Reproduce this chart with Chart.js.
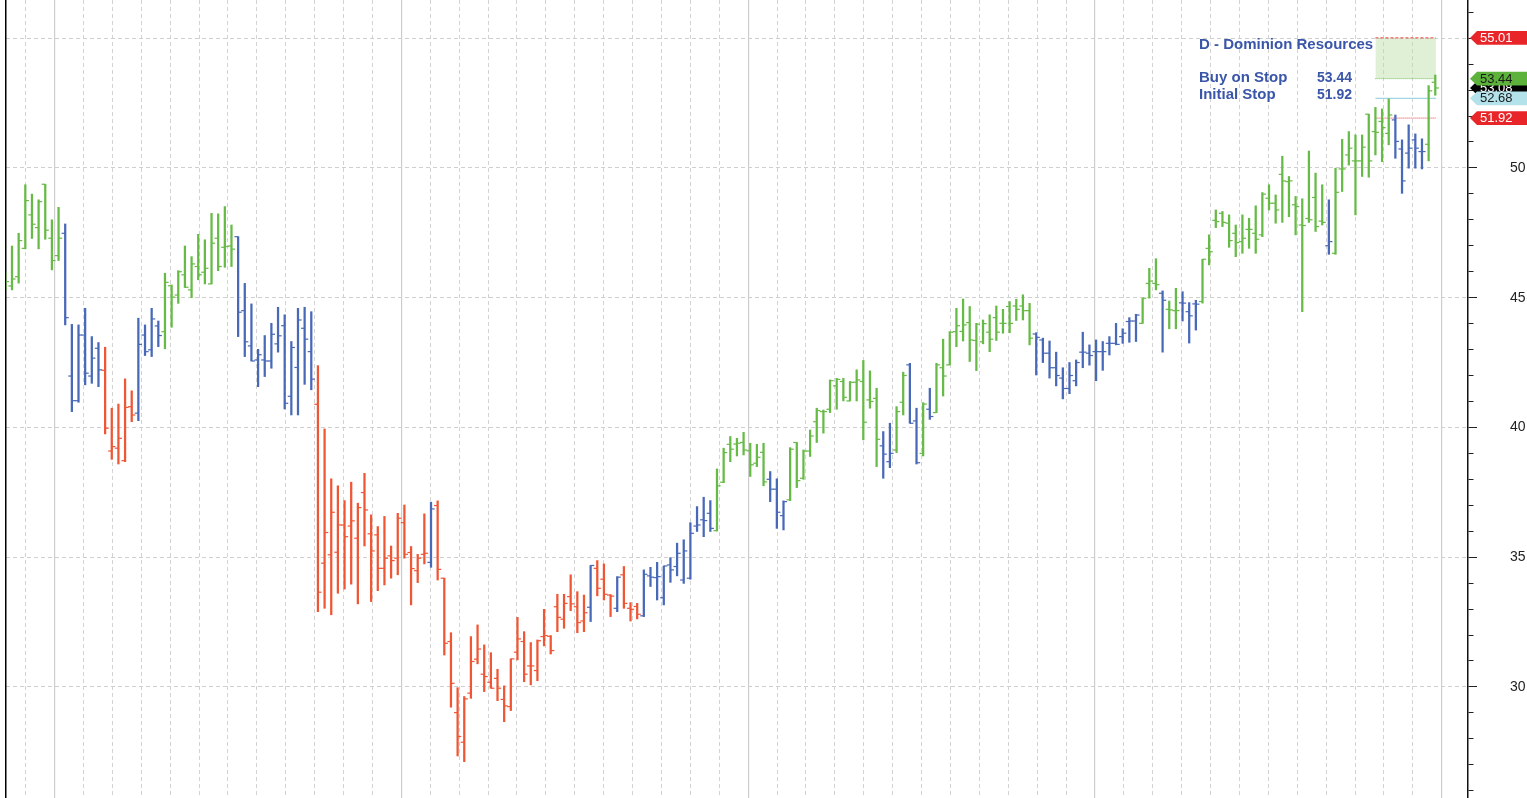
<!DOCTYPE html>
<html>
<head>
<meta charset="utf-8">
<title>D - Dominion Resources</title>
<script src="https://cdn.jsdelivr.net/npm/chart.js@4.4.0/dist/chart.umd.min.js"></script>
<style>
  html, body { margin: 0; padding: 0; background: #fff; overflow: hidden; }
  #wrap { width: 1527px; height: 798px; }
</style>
</head>
<body>
<div id="wrap"><canvas id="priceChart" width="1527" height="798"></canvas></div>
<script>
// daily bars, oldest first
const opens = [
  45.7, 45.45, 45.81, 46.9, 48.19, 47.7, 49.37, 47.29, 46.62, 47.48,
  41.98, 41.03, 43.56, 41.98, 43.05, 42.2, 39.09, 39.2, 38.72, 40.8,
  40.55, 43.56, 42.99, 43.91, 43.69, 45.46, 45.1, 45.88, 45.3, 46.2,
  45.98, 45.53, 47.29, 46.94, 46.99, 47.35, 44.5, 43.14, 42.6, 42.6,
  42.56, 43.22, 43.92, 41.2, 42.31, 43.82, 42.92, 40.89, 34.77, 35.09,
  35.19, 36.24, 36.2, 35.73, 37.49, 35.9, 35.86, 34.57, 35.05, 34.96,
  36.33, 35.18, 34.48, 35.11, 34.8, 36.99, 34.19, 31.75, 29.01, 27.87,
  29.76, 31.07, 30.49, 30.18, 30.33, 29.52, 29.24, 31.34, 31.75, 30.81,
  30.63, 31.94, 31.95, 33.09, 32.61, 33.48, 33.09, 32.54, 33.07, 34.57,
  34.15, 33.54, 33.03, 34.32, 33.03, 33.1, 32.74, 34.28, 34.21, 33.44,
  34.7, 34.64, 34.12, 34.19, 36.2, 36.44, 36.69, 36.02, 37.89, 39.35,
  39.36, 39.42, 39.1, 38.62, 39.04, 38.0, 37.62, 36.6, 37.21, 39.42,
  38.04, 39.09, 40.22, 40.61, 40.7, 41.6, 41.77, 41.02, 41.74, 41.77,
  41.06, 41.12, 39.29, 38.68, 39.13, 40.97, 42.41, 40.25, 39.0, 40.7,
  40.57, 42.3, 42.41, 43.69, 43.7, 44.04, 43.35, 43.3, 43.67, 44.23,
  44.01, 44.66, 44.68, 44.68, 44.5, 43.6, 43.37, 42.86, 42.3, 41.9,
  41.5, 41.8, 42.9, 42.86, 42.92, 42.92, 43.24, 43.24, 43.5, 44.08,
  44.1, 44.01, 45.55, 45.55, 45.17, 44.55, 44.5, 44.8, 44.46, 44.76,
  44.85, 46.9, 47.98, 48.25, 47.87, 47.48, 47.16, 47.63, 47.48, 47.42,
  48.83, 48.64, 49.75, 49.47, 48.58, 47.8, 48.05, 48.86, 47.95, 47.0,
  46.71, 49.96, 50.5, 50.27, 50.27, 52.07, 51.4, 51.79, 51.33, 51.85,
  50.73, 50.57, 51.08, 50.63, 50.91, 53.3
];
const highs = [
  46.0, 46.99, 47.48, 49.35, 48.99, 48.77, 49.37, 48.0, 48.48, 47.84,
  43.97, 43.95, 44.59, 43.5, 43.27, 43.09, 40.74, 40.9, 41.87, 41.41,
  44.21, 43.95, 44.59, 44.1, 45.94, 45.49, 46.04, 46.99, 46.58, 47.44,
  47.23, 48.25, 48.23, 48.51, 47.8, 47.35, 45.55, 44.76, 43.01, 43.54,
  44.01, 44.63, 44.34, 43.31, 44.59, 44.63, 44.46, 42.38, 39.94, 38.02,
  37.75, 37.18, 37.89, 37.08, 38.23, 36.63, 36.18, 36.57, 35.43, 36.69,
  37.01, 35.41, 35.11, 36.67, 37.12, 37.17, 34.19, 32.09, 29.97, 29.63,
  31.94, 32.39, 31.62, 31.32, 30.68, 30.04, 31.08, 32.68, 32.13, 31.71,
  31.81, 32.99, 31.98, 33.57, 33.57, 34.32, 33.67, 33.54, 34.68, 34.87,
  34.74, 33.56, 34.25, 34.64, 33.25, 33.22, 34.51, 34.61, 34.8, 34.66,
  34.98, 35.54, 35.67, 36.33, 36.95, 37.31, 37.18, 38.4, 39.2, 39.65,
  39.58, 39.81, 39.39, 39.35, 39.39, 38.3, 38.02, 37.17, 39.22, 39.42,
  39.13, 39.9, 40.74, 40.67, 41.83, 41.89, 41.89, 41.77, 42.22, 42.58,
  42.18, 41.51, 39.84, 40.16, 40.8, 42.13, 42.47, 40.74, 40.95, 41.51,
  42.47, 43.4, 43.69, 44.59, 44.95, 44.66, 44.01, 44.14, 44.34, 44.68,
  44.55, 44.85, 44.94, 45.11, 44.78, 43.65, 43.44, 43.33, 42.9, 42.3,
  42.5, 42.6, 43.67, 43.18, 43.37, 43.31, 43.5, 44.01, 43.8, 44.23,
  44.36, 44.98, 46.13, 46.5, 45.26, 44.87, 45.36, 45.23, 44.81, 44.9,
  46.48, 47.42, 48.38, 48.32, 48.19, 47.8, 48.19, 48.06, 48.54, 49.05,
  49.35, 48.96, 50.45, 49.67, 48.9, 48.81, 50.65, 49.8, 49.35, 48.77,
  49.99, 51.1, 51.4, 51.27, 51.27, 52.07, 52.33, 52.27, 52.66, 52.04,
  51.08, 51.66, 51.31, 51.12, 53.17, 53.58
];
const lows = [
  45.3, 45.3, 45.56, 46.88, 47.28, 46.88, 47.25, 46.07, 46.43, 43.95,
  40.61, 40.97, 41.64, 41.7, 41.57, 39.75, 38.77, 38.59, 38.68, 40.22,
  40.26, 42.77, 42.73, 43.11, 43.03, 43.86, 44.78, 45.39, 45.0, 45.69,
  45.53, 45.53, 46.04, 46.17, 46.2, 43.5, 42.73, 42.56, 41.57, 41.96,
  42.28, 42.9, 40.71, 40.48, 40.48, 41.66, 41.45, 32.9, 33.03, 32.78,
  33.61, 33.77, 33.96, 33.2, 35.43, 33.29, 33.71, 33.93, 34.19, 34.32,
  34.96, 33.16, 34.02, 34.74, 34.61, 34.12, 31.23, 29.22, 27.34, 27.12,
  29.56, 30.89, 29.82, 29.95, 29.47, 28.66, 29.09, 31.04, 30.2, 30.08,
  30.24, 31.58, 31.27, 32.13, 32.26, 32.94, 32.09, 32.13, 32.52, 33.51,
  33.35, 32.71, 32.9, 33.03, 32.54, 32.62, 32.71, 33.87, 33.35, 33.16,
  34.03, 34.28, 33.99, 34.15, 35.99, 35.79, 35.99, 36.01, 37.87, 38.68,
  38.9, 38.94, 38.11, 38.49, 37.75, 37.14, 36.11, 36.05, 37.18, 37.68,
  38.0, 38.88, 39.42, 39.78, 40.57, 40.7, 41.02, 41.02, 41.02, 39.52,
  40.74, 38.49, 38.04, 38.45, 39.03, 40.48, 40.16, 38.59, 38.9, 40.31,
  40.57, 41.21, 42.41, 43.11, 43.33, 42.54, 42.19, 43.22, 42.92, 43.35,
  43.63, 43.65, 44.12, 44.14, 43.18, 42.02, 42.5, 41.9, 41.6, 41.1,
  41.3, 41.6, 42.3, 42.4, 41.8, 42.2, 42.79, 43.18, 43.24, 43.28,
  43.31, 44.01, 44.98, 45.3, 42.9, 43.8, 43.8, 44.1, 43.25, 43.75,
  44.79, 46.26, 47.7, 47.74, 46.94, 46.58, 46.71, 46.9, 46.71, 47.35,
  48.38, 47.87, 47.9, 48.12, 47.42, 44.46, 47.9, 47.55, 47.8, 46.67,
  46.67, 49.09, 50.11, 48.19, 49.67, 49.64, 50.5, 50.24, 50.89, 50.37,
  49.02, 49.99, 49.99, 49.96, 50.27, 52.8
];
const closes = [
  45.62, 45.72, 47.2, 48.74, 47.83, 48.7, 47.6, 46.43, 47.29, 44.23,
  41.03, 43.56, 42.09, 42.67, 42.22, 39.97, 39.26, 39.58, 40.77, 40.48,
  43.2, 42.92, 44.18, 43.54, 45.59, 45.02, 46.0, 45.4, 46.3, 45.88,
  46.13, 47.1, 46.2, 46.97, 46.87, 44.44, 43.3, 42.56, 42.8, 42.56,
  43.59, 43.53, 40.93, 43.08, 44.14, 43.4, 41.86, 33.65, 35.95, 36.73,
  36.24, 35.79, 36.4, 36.91, 36.82, 35.24, 34.57, 34.96, 34.87, 36.5,
  35.11, 34.56, 34.96, 35.15, 36.86, 34.53, 31.68, 30.14, 28.09, 29.54,
  30.98, 31.46, 30.4, 29.95, 29.95, 29.27, 31.08, 31.85, 30.49, 30.81,
  31.78, 31.98, 31.4, 32.68, 33.22, 33.2, 32.48, 32.86, 34.68, 33.8,
  33.57, 33.5, 34.23, 33.22, 32.99, 32.8, 34.34, 34.23, 34.25, 34.66,
  34.51, 35.15, 35.24, 35.92, 36.24, 36.41, 36.11, 37.75, 39.03, 39.16,
  39.39, 39.13, 38.56, 38.85, 37.9, 37.62, 36.73, 37.14, 39.16, 37.95,
  39.09, 39.67, 40.65, 40.61, 41.8, 41.85, 41.16, 41.74, 41.83, 40.2,
  41.0, 39.54, 38.97, 39.0, 40.61, 42.0, 40.16, 38.64, 40.9, 40.42,
  42.41, 41.98, 43.67, 43.92, 43.95, 43.37, 43.98, 44.0, 43.4, 43.67,
  44.01, 44.01, 44.55, 44.5, 43.44, 43.47, 42.86, 42.3, 42.0, 41.5,
  42.0, 42.5, 42.9, 42.77, 42.92, 42.92, 43.24, 43.2, 43.63, 44.1,
  44.33, 44.98, 45.64, 45.5, 44.9, 44.53, 44.5, 44.79, 44.3, 44.75,
  46.48, 46.77, 47.93, 47.9, 47.2, 47.12, 47.29, 47.63, 47.25, 48.99,
  48.64, 48.38, 49.5, 49.5, 48.51, 47.78, 48.0, 47.74, 47.9, 47.16,
  49.06, 49.96, 50.76, 50.27, 50.8, 50.27, 51.37, 51.55, 52.04, 51.02,
  49.5, 50.76, 50.76, 50.63, 52.97, 53.08
];
// trend state of each bar: G up, B neutral, R down (run lengths)
const trendRuns = [
  ['G', 9], ['B', 6], ['R', 5], ['B', 4], ['G', 11], ['B', 12], ['R', 17], ['B', 1],
  ['R', 23], ['B', 1], ['R', 3], ['B', 1], ['R', 3], ['B', 11], ['G', 8], ['B', 3],
  ['G', 14], ['B', 2], ['G', 2], ['B', 2], ['G', 1], ['B', 1], ['G', 15], ['B', 16],
  ['G', 3], ['B', 1], ['G', 2], ['B', 3], ['G', 19], ['B', 1], ['G', 9], ['B', 5], ['G', 2]
];
const priceLabels = [30, 35, 40, 45, 50, 55];

// trade levels
const targetPrice = 55.01;
const buyStop = 53.44;
const lastPrice = 53.08;
const midPrice = 52.68;
const initialStop = 51.92;
const levelStartBar = 206;

const trend = [];
trendRuns.forEach(([t, n]) => { for (let k = 0; k < n; k++) trend.push(t); });

const COLORS = { G: '#66ba46', B: '#4868b8', R: '#ef5634' };
const X_MIN = 0.098, X_MAX = 219.92;
const Y_MIN = 25.72, Y_MAX = 56.47;
const WEEK_START = 3.06, WEEK_STEP = 4.345;

const weekLines = [];
const quarterLines = [];
for (let k = 0; WEEK_START + k * WEEK_STEP < X_MAX; k++) {
  const v = WEEK_START + k * WEEK_STEP;
  if (k % 12 === 1) quarterLines.push(v); else weekLines.push(v);
}
const priceTicks = [];
for (let v = Math.ceil(Y_MIN); v <= Math.floor(Y_MAX); v++) priceTicks.push(v);

const idx = opens.map((_, i) => i);
const barColor = idx.map(i => COLORS[trend[i]]);
const lastBar = idx.length - 1 + 0.1;
const levelLine = v => [{ x: levelStartBar, y: v }, { x: lastBar, y: v }];
const isMajor = v => v % 5 === 0;

const FONT = '"Liberation Sans", Arial, sans-serif';

const overlayPlugin = {
  id: 'overlay',
  afterDraw(chart) {
    const ctx = chart.ctx;
    const y = chart.scales.y;
    const tip = y.left + 2;
    const right = chart.width;

    function tag(value, fill, textColor) {
      const py = y.getPixelForValue(value);
      ctx.save();
      ctx.beginPath();
      ctx.moveTo(tip, py);
      ctx.lineTo(tip + 7, py - 6.8);
      ctx.lineTo(right, py - 6.8);
      ctx.lineTo(right, py + 6.8);
      ctx.lineTo(tip + 7, py + 6.8);
      ctx.closePath();
      ctx.fillStyle = fill;
      ctx.fill();
      ctx.fillStyle = textColor;
      ctx.font = '13px ' + FONT;
      ctx.textAlign = 'left';
      ctx.textBaseline = 'middle';
      ctx.fillText(value.toFixed(2), tip + 10, py + 0.5);
      ctx.restore();
    }
    tag(lastPrice, '#000000', '#ffffff');
    tag(targetPrice, '#e8262a', '#ffffff');
    tag(buyStop, '#5cb23a', '#1a1a1a');
    tag(midPrice, '#b4e2ea', '#1a1a1a');
    tag(initialStop, '#e8262a', '#ffffff');

    ctx.save();
    ctx.fillStyle = '#3a56a8';
    ctx.textBaseline = 'alphabetic';
    ctx.textAlign = 'left';
    ctx.font = 'bold 15px ' + FONT;
    ctx.fillText('D - Dominion Resources', 1199, 49);
    ctx.fillText('Buy on Stop', 1199, 82);
    ctx.fillText('Initial Stop', 1199, 99);
    ctx.font = 'bold 14px ' + FONT;
    ctx.textAlign = 'right';
    ctx.fillText(buyStop.toFixed(2), 1352, 82);
    ctx.fillText(initialStop.toFixed(2), 1352, 99);
    ctx.restore();
  }
};

function zeroPad(s) { s.paddingTop = 0; s.paddingBottom = 0; s.paddingLeft = 0; s.paddingRight = 0; }

new Chart(document.getElementById('priceChart'), {
  type: 'bar',
  data: {
    datasets: [
      {
        type: 'bar', label: 'range', order: 5,
        data: idx.map(i => ({ x: i, y: [lows[i], highs[i]] })),
        backgroundColor: barColor,
        barThickness: 1.6, borderWidth: 0
      },
      {
        // open: short dash pointing left
        type: 'line', label: 'open', order: 1, showLine: false,
        data: idx.map(i => ({ x: i, y: opens[i] })),
        pointStyle: 'dash', rotation: 180, pointRadius: 3.6,
        pointBorderColor: barColor, pointBorderWidth: 1.2
      },
      {
        // close: short dash pointing right
        type: 'line', label: 'close', order: 1, showLine: false,
        data: idx.map(i => ({ x: i, y: closes[i] })),
        pointStyle: 'dash', rotation: 0, pointRadius: 3.6,
        pointBorderColor: barColor, pointBorderWidth: 1.2
      },
      {
        type: 'line', label: 'target', order: 10, data: levelLine(targetPrice),
        borderColor: '#e8383a', borderWidth: 1, borderDash: [3, 2], pointRadius: 0,
        fill: '+1', backgroundColor: 'rgba(185,222,165,0.45)'
      },
      {
        type: 'line', label: 'buy stop', order: 10, data: levelLine(buyStop),
        borderColor: '#56b236', borderWidth: 1, borderDash: [1, 1], pointRadius: 0, fill: false
      },
      {
        type: 'line', label: 'mid', order: 10, data: levelLine(midPrice),
        borderColor: '#9fd6e2', borderWidth: 1.2, pointRadius: 0, fill: false
      },
      {
        type: 'line', label: 'initial stop', order: 10, data: levelLine(initialStop),
        borderColor: '#e8383a', borderWidth: 1, borderDash: [1, 1], pointRadius: 0, fill: false
      }
    ]
  },
  options: {
    responsive: false,
    animation: false,
    devicePixelRatio: 1,
    events: [],
    layout: { padding: 0, autoPadding: false },
    plugins: { legend: { display: false }, tooltip: { enabled: false } },
    scales: {
      x: {
        type: 'linear', min: X_MIN, max: X_MAX, bounds: 'data', offset: false,
        afterBuildTicks: s => { s.ticks = weekLines.map(v => ({ value: v })); },
        afterFit: s => { s.height = 0; zeroPad(s); },
        ticks: { display: false },
        grid: { color: '#d3d3d3', lineWidth: 1, drawTicks: false, offset: false },
        border: { display: false, dash: [4, 3] }
      },
      x2: {
        type: 'linear', position: 'bottom', min: X_MIN, max: X_MAX, bounds: 'data', offset: false,
        afterBuildTicks: s => { s.ticks = quarterLines.map(v => ({ value: v })); },
        afterFit: s => { s.height = 0; zeroPad(s); },
        ticks: { display: false },
        grid: { color: '#cdcdcd', lineWidth: 1.2, drawTicks: false, offset: false },
        border: { display: false }
      },
      y: {
        type: 'linear', position: 'right', min: Y_MIN, max: Y_MAX, bounds: 'data',
        afterBuildTicks: s => { s.ticks = priceTicks.map(v => ({ value: v })); },
        afterFit: s => { s.width = 59; zeroPad(s); },
        ticks: {
          autoSkip: false, padding: 33,
          color: '#222', font: { family: FONT, size: 14 },
          callback: v => priceLabels.includes(v) ? String(v) : ''
        },
        grid: {
          color: c => (c.tick && isMajor(c.tick.value)) ? '#cfcfcf' : 'rgba(0,0,0,0)',
          lineWidth: 1, tickLength: 9, tickColor: '#222', tickWidth: 1,
          tickBorderDash: c => (c.tick && isMajor(c.tick.value)) ? [] : [5, 30]
        },
        border: { display: true, color: '#111', width: 1.5, dash: [4, 3] }
      },
      yFrame: {
        type: 'linear', position: 'left', min: Y_MIN, max: Y_MAX,
        afterFit: s => { s.width = 6; zeroPad(s); },
        ticks: { display: false },
        grid: { display: false },
        border: { display: true, color: '#000', width: 1.5 }
      }
    }
  },
  plugins: [overlayPlugin]
});
</script>
</body>
</html>
